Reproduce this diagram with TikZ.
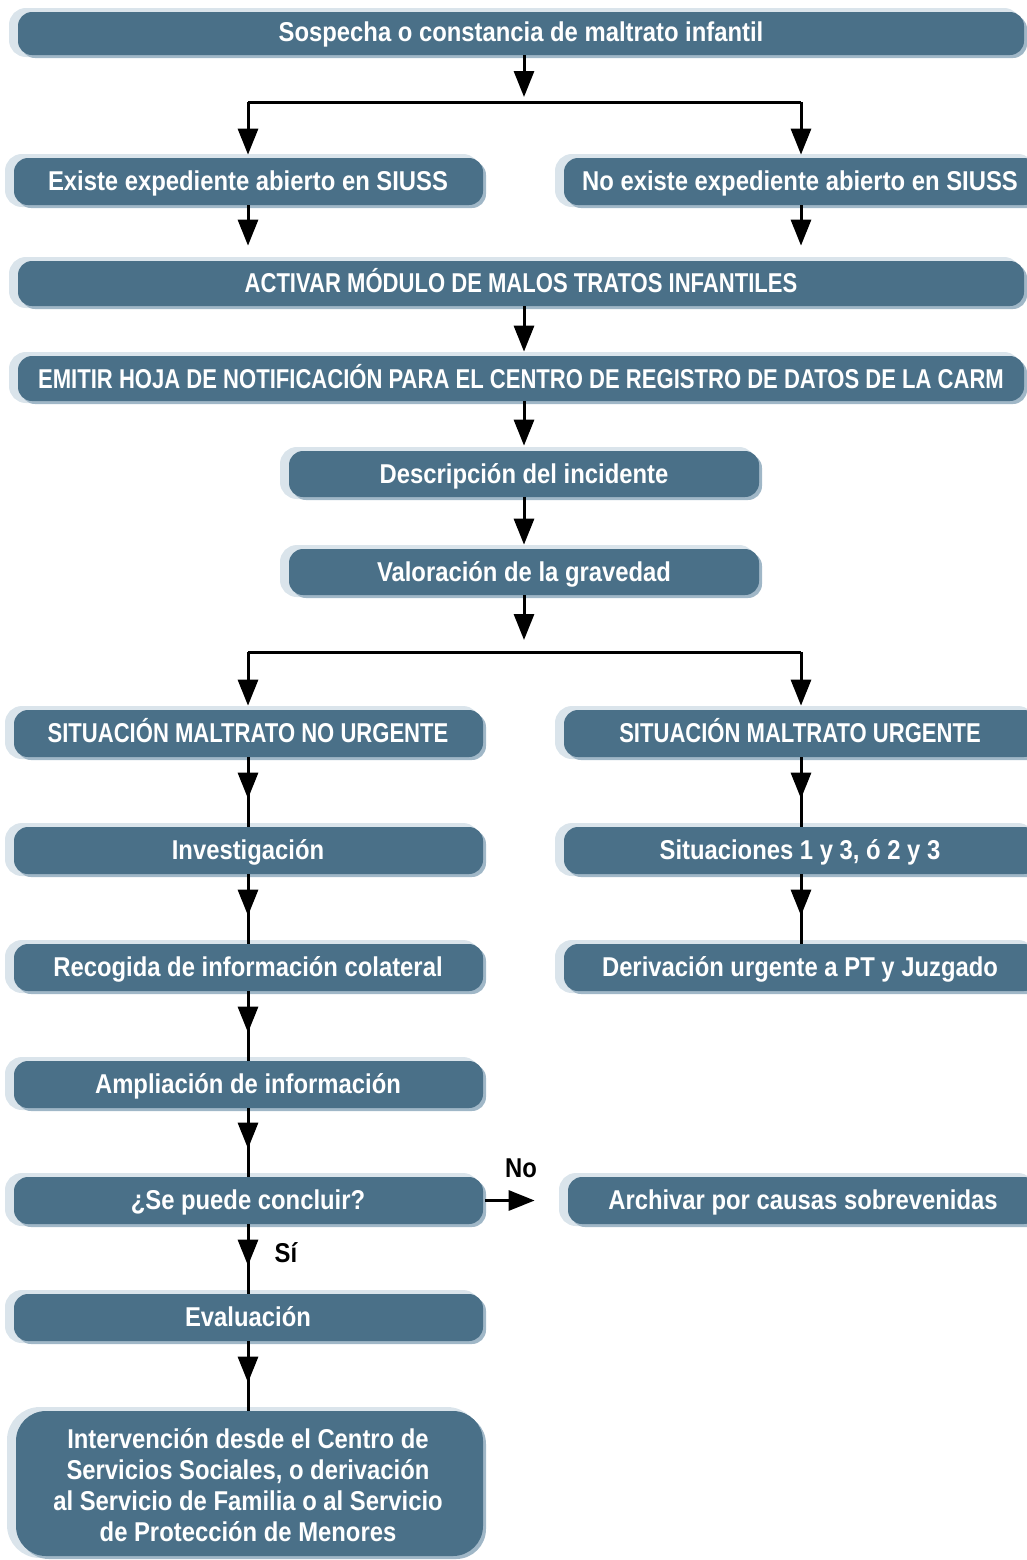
\documentclass[tikz,border=0pt]{standalone}
\usepackage{fontspec}
\setmainfont{Liberation Sans}[FakeStretch=0.875]
\newfontfamily\capsfont{Liberation Sans}[FakeStretch=0.81]
\usetikzlibrary{arrows.meta,fit,shadows,decorations.markings}
\definecolor{boxblue}{RGB}{74,112,136}
\definecolor{halo}{RGB}{218,228,235}
\definecolor{rim}{RGB}{160,183,199}

\tikzset{
  box/.style={inner sep=0pt, rounded corners=0.28cm, fill=boxblue,
    general shadow={fill=halo, draw=halo, line width=0.12cm,
      shadow xshift=-0.12cm, shadow yshift=0.02cm},
    general shadow={fill=rim, shadow xshift=0.06cm, shadow yshift=-0.06cm}},
  bigbox/.style={box, rounded corners=0.6cm},
  txt/.style={inner sep=0pt, text=white, text height=0.716em, text depth=0pt,
    yshift=-0.06cm, font=\bfseries\fontsize{15.5}{17.6}\selectfont},
  captxt/.style={txt, font=\capsfont\bfseries\fontsize{15.5}{17.6}\selectfont},
  multitxt/.style={inner sep=0pt, text=white, align=center,
    font=\bfseries\fontsize{15.5}{17.6}\selectfont},
  line/.style={line width=0.06cm},
  arr/.style={line, -{Triangle[length=0.52cm,width=0.4cm]}},
  midarr/.style={line, decoration={markings,
      mark=at position -0.56cm with {\arrow{Triangle[length=0.52cm,width=0.4cm]}}},
    postaction={decorate}},
  lbl/.style={txt, text=black}
}

\begin{document}
\begin{tikzpicture}[x=0.02cm,y=-0.02cm]

\useasboundingbox (0,0) rectangle (1027,1560);
\clip (0,0) rectangle (1027,1560);

% boxes
\node[box, fit={(18,12) (1024,55)}] (B1) {};
\node[box, fit={(14,158) (483,205)}] (B2L) {};
\node[box, fit={(564,158) (1038,205)}] (B2R) {};
\node[box, fit={(18,261) (1024,306)}] (B3) {};
\node[box, fit={(18,356) (1024,401)}] (B4) {};
\node[box, fit={(289,451) (759,497)}] (B5) {};
\node[box, fit={(289,549) (759,595)}] (B6) {};
\node[box, fit={(14,710) (483,757)}] (B7L) {};
\node[box, fit={(564,710) (1038,757)}] (B7R) {};
\node[box, fit={(14,827) (483,874)}] (B8L) {};
\node[box, fit={(564,827) (1038,874)}] (B8R) {};
\node[box, fit={(14,944) (483,991)}] (B9L) {};
\node[box, fit={(564,944) (1038,991)}] (B9R) {};
\node[box, fit={(14,1061) (483,1108)}] (B10L) {};
\node[box, fit={(14,1177) (483,1224)}] (B11L) {};
\node[box, fit={(568,1177) (1038,1224)}] (B11R) {};
\node[box, fit={(14,1294) (483,1341)}] (B12L) {};
\node[bigbox, fit={(16,1411) (483,1556)}] (B13) {};

% box texts
\node[txt] (T1) at (521,32) {Sospecha o constancia de maltrato infantil};
\node[txt] (T2L) at (248,181) {Existe expediente abierto en SIUSS};
\node[txt] (T2R) at (800,181) {No existe expediente abierto en SIUSS};
\node[captxt] (T3) at (521,283) {ACTIVAR MÓDULO DE MALOS TRATOS INFANTILES};
\node[captxt] (T4) at (521,379) {EMITIR HOJA DE NOTIFICACIÓN PARA EL CENTRO DE REGISTRO DE DATOS DE LA CARM};
\node[txt] (T5) at (524,474) {Descripción del incidente};
\node[txt] (T6) at (524,572) {Valoración de la gravedad};
\node[captxt] (T7L) at (248,733) {SITUACIÓN MALTRATO NO URGENTE};
\node[captxt] (T7R) at (800,733) {SITUACIÓN MALTRATO URGENTE};
\node[txt] (T8L) at (248,850) {Investigación};
\node[txt] (T8R) at (800,850) {Situaciones 1 y 3, ó 2 y 3};
\node[txt] (T9L) at (248,967) {Recogida de información colateral};
\node[txt] (T9R) at (800,967) {Derivación urgente a PT y Juzgado};
\node[txt] (T10L) at (248,1084) {Ampliación de información};
\node[txt] (T11L) at (248,1200) {¿Se puede concluir?};
\node[txt] (T11R) at (803,1200) {Archivar por causas sobrevenidas};
\node[txt] (T12L) at (248,1317) {Evaluación};
\node[multitxt] (T13) at (248,1485) {Intervención desde el Centro de\\Servicios Sociales, o derivación\\al Servicio de Familia o al Servicio\\de Protección de Menores};

% branching points
\coordinate (s1) at (524,102);
\coordinate (s1l) at (248,102);
\coordinate (s1r) at (801,102);
\coordinate (s2) at (524,652);
\coordinate (s2l) at (248,652);
\coordinate (s2r) at (801,652);

% connectors, top part
\draw[arr, shorten >=0.1cm] (B1.south -| s1) -- (s1);
\draw[line] (s1l) -- (s1r);
\draw[arr, shorten >=0.06cm] (s1l) -- (s1l |- B2L.north);
\draw[arr, shorten >=0.06cm] (s1r) -- (s1r |- B2R.north);
\draw[arr, shorten >=0.3cm] (B2L.south -| s1l) -- (B3.north -| s1l);
\draw[arr, shorten >=0.3cm] (B2R.south -| s1r) -- (B3.north -| s1r);
\draw[arr, shorten >=0.08cm] (B3.south -| s1) -- (B4.north -| s1);
\draw[arr, shorten >=0.1cm] (B4.south -| s1) -- (B5.north);
\draw[arr, shorten >=0.08cm] (B5.south) -- (B6.north);
\draw[arr, shorten >=0.24cm] (B6.south) -- (s2);
\draw[line] (s2l) -- (s2r);
\draw[arr, shorten >=0.08cm] (s2l) -- (s2l |- B7L.north);
\draw[arr, shorten >=0.08cm] (s2r) -- (s2r |- B7R.north);

% left column
\draw[midarr] (B7L.south -| s1l) -- (B8L.north -| s1l);
\draw[midarr] (B8L.south -| s1l) -- (B9L.north -| s1l);
\draw[midarr] (B9L.south -| s1l) -- (B10L.north -| s1l);
\draw[midarr] (B10L.south -| s1l) -- (B11L.north -| s1l);
\draw[midarr] (B11L.south -| s1l) -- (B12L.north -| s1l);
\draw[midarr] (B12L.south -| s1l) -- (B13.north -| s1l);

% right column
\draw[midarr] (B7R.south -| s1r) -- (B8R.north -| s1r);
\draw[midarr] (B8R.south -| s1r) -- (B9R.north -| s1r);

% decision branch
\draw[arr, shorten >=0.66cm] ([xshift=0.04cm]B11L.east) -- (B11R.west);
\node[lbl] (no) at (521,1168) {No};
\node[lbl] (si) at (286,1253) {Sí};
\end{tikzpicture}
\end{document}
